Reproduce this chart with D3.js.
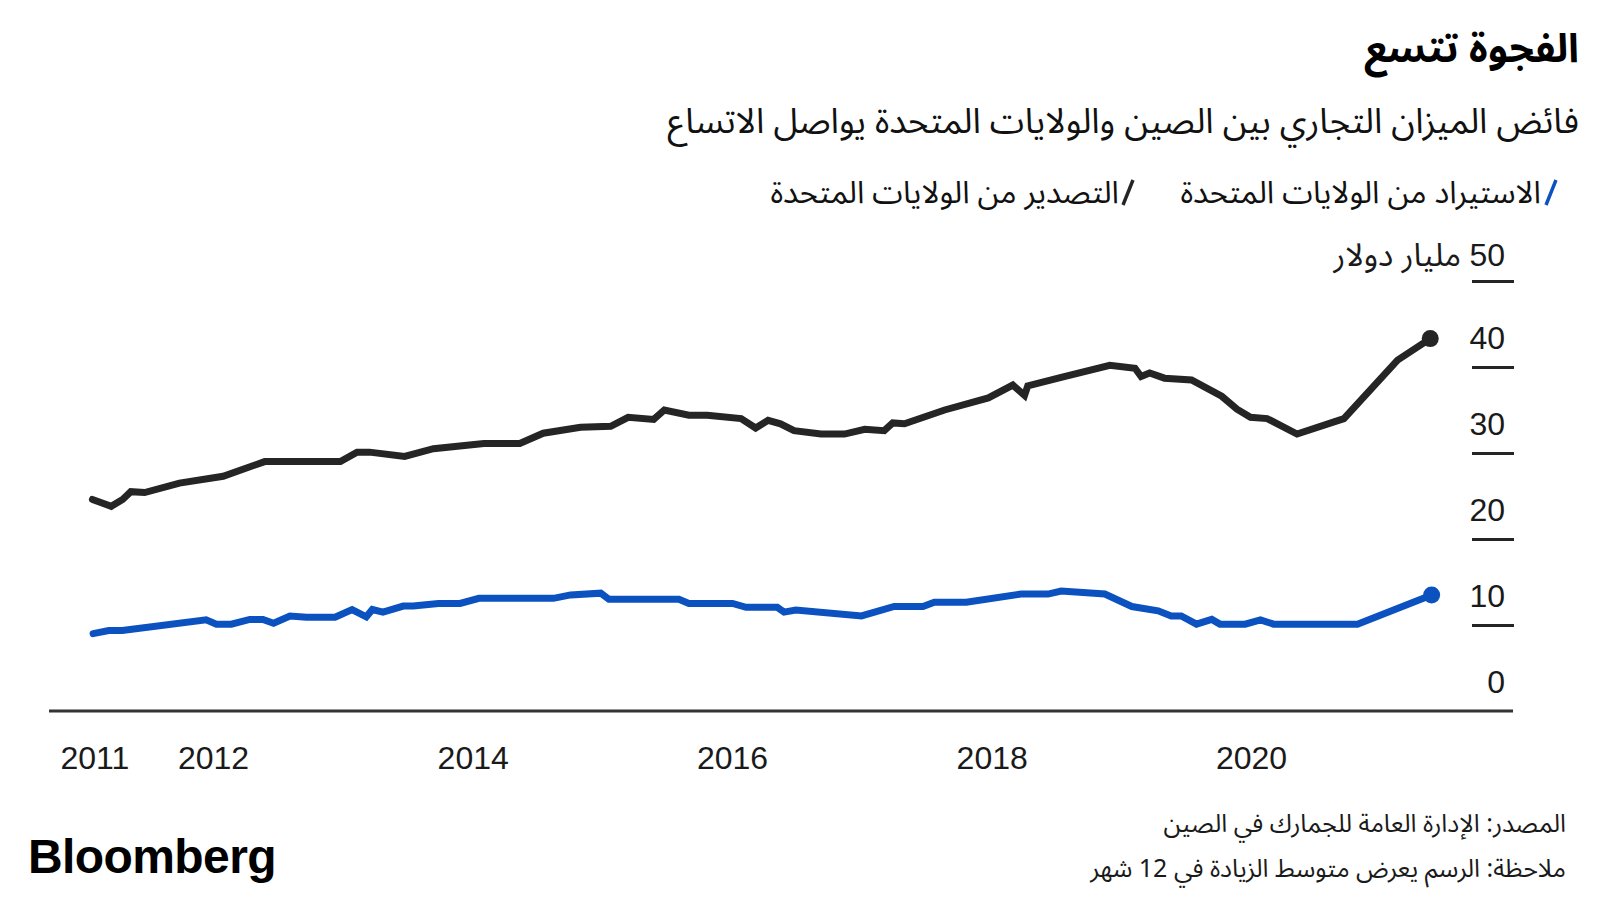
<!DOCTYPE html>
<html lang="ar">
<head>
<meta charset="utf-8">
<script src="https://cdn.jsdelivr.net/npm/d3@7"></script>
<style>
  html, body { margin: 0; padding: 0; background: #fff; }
  svg { display: block; }
  .ar { font-family: "Noto Sans Arabic", "Noto Kufi Arabic", "DejaVu Sans", sans-serif; }
  .num { font-family: "Liberation Sans", Arial, sans-serif; }
</style>
</head>
<body>
<svg id="chart" width="1600" height="900"></svg>
<script>
// ---------- DATA ----------
const titleText = "الفجوة تتسع";
const subtitleText = "فائض الميزان التجاري بين الصين والولايات المتحدة يواصل الاتساع";
const legendLabels = ["الاستيراد من الولايات المتحدة", "التصدير من الولايات المتحدة"];
const unitText = "مليار دولار";
const sourceText = "المصدر: الإدارة العامة للجمارك في الصين";
const noteText = "ملاحظة: الرسم يعرض متوسط الزيادة في 12 شهر";

// Exports to the US (black line), billions USD
const exportDates = ["2011-02-04","2011-03-29","2011-04-30","2011-05-23","2011-07-01","2011-10-07","2012-02-07","2012-06-03","2013-01-02","2013-02-18","2013-03-25","2013-07-02","2013-09-21","2014-02-10","2014-05-22","2014-07-27","2014-11-09","2015-02-02","2015-03-23","2015-06-03","2015-07-03","2015-09-10","2015-11-01","2016-02-04","2016-03-16","2016-04-20","2016-05-25","2016-07-02","2016-09-16","2016-11-21","2017-01-17","2017-03-13","2017-04-06","2017-05-09","2017-08-30","2017-12-31","2018-03-10","2018-04-12","2018-04-21","2018-07-24","2018-12-08","2019-02-17","2019-03-06","2019-03-30","2019-05-11","2019-07-26","2019-10-19","2019-12-01","2020-01-08","2020-02-24","2020-05-18","2020-09-27","2021-02-25","2021-05-28"];
const exportValues = [24.6,23.8,24.6,25.5,25.4,26.5,27.3,29.0,29.0,30.1,30.1,29.6,30.5,31.1,31.1,32.3,33.0,33.1,34.15,33.9,35.0,34.4,34.4,34.0,32.9,33.8,33.4,32.6,32.2,32.2,32.75,32.6,33.5,33.4,35.0,36.4,37.9,36.7,37.8,38.8,40.2,39.85,38.9,39.3,38.7,38.5,36.6,35.1,34.15,34.0,32.2,34.0,40.8,43.3];

// Imports from the US (blue line), billions USD
const importDates = ["2011-02-06","2011-03-22","2011-04-29","2011-12-21","2012-01-19","2012-03-01","2012-04-22","2012-05-29","2012-06-28","2012-08-13","2012-09-29","2012-12-18","2013-02-04","2013-03-16","2013-04-02","2013-05-02","2013-06-28","2013-07-26","2013-10-05","2013-12-05","2014-01-27","2014-08-25","2014-10-12","2015-01-05","2015-01-28","2015-08-13","2015-09-10","2016-01-11","2016-02-18","2016-05-16","2016-06-04","2016-07-07","2017-01-08","2017-04-10","2017-06-30","2017-08-01","2017-10-30","2018-04-02","2018-06-17","2018-07-24","2018-11-24","2019-02-08","2019-04-23","2019-05-30","2019-06-27","2019-08-09","2019-09-21","2019-10-14","2019-12-24","2020-02-05","2020-03-13","2020-11-04","2021-06-01"];
const importValues = [9.0,9.35,9.35,10.6,10.1,10.1,10.65,10.65,10.2,11.05,10.9,10.9,11.8,10.95,11.8,11.5,12.2,12.2,12.5,12.5,13.1,13.1,13.5,13.7,13.0,13.0,12.5,12.5,12.05,12.05,11.5,11.75,11.05,12.15,12.15,12.65,12.65,13.6,13.6,13.95,13.6,12.15,11.65,11.05,11.05,10.1,10.65,10.1,10.1,10.6,10.1,10.1,13.5];

const yTickValues = [0, 10, 20, 30, 40, 50];
const xTickDates = ["2011-02-01","2012-01-01","2014-01-01","2016-01-01","2018-01-01","2020-01-01"];
const xTickLabels = ["2011","2012","2014","2016","2018","2020"];

// ---------- SETUP ----------
const parse = d3.utcParse("%Y-%m-%d");
const exportsSeries = exportDates.map((d, i) => ({ date: parse(d), value: exportValues[i] }));
const importsSeries = importDates.map((d, i) => ({ date: parse(d), value: importValues[i] }));

const svg = d3.select("#chart");
const BLACK = "#252525";
const BLUE = "#0b52c0";

const x = d3.scaleUtc()
  .domain([parse("2012-01-01"), parse("2020-01-01")])
  .range([210, 1248]);
const y = d3.scaleLinear().domain([0, 50]).range([711, 281]);

// ---------- TITLES ----------
svg.append("text").attr("class", "ar")
  .attr("x", 1579).attr("y", 62)
  .attr("direction", "rtl").attr("text-anchor", "start")
  .attr("font-size", 40).attr("font-weight", 700).attr("fill", "#000")
  .text(titleText);

svg.append("text").attr("class", "ar")
  .attr("x", 1579).attr("y", 133)
  .attr("direction", "rtl").attr("text-anchor", "start")
  .attr("font-size", 35).attr("fill", "#111")
  .text(subtitleText);

// ---------- LEGEND ----------
const legend = [
  { label: legendLabels[0], color: BLUE, slashX: 1551, textX: 1541 },
  { label: legendLabels[1], color: BLACK, slashX: 1128, textX: 1119 }
];
legend.forEach(l => {
  svg.append("line")
    .attr("x1", l.slashX - 5).attr("y1", 205)
    .attr("x2", l.slashX + 5).attr("y2", 180)
    .attr("stroke", l.color).attr("stroke-width", 3.4);
  svg.append("text").attr("class", "ar")
    .attr("x", l.textX).attr("y", 203)
    .attr("direction", "rtl").attr("text-anchor", "start")
    .attr("font-size", 31).attr("fill", "#111")
    .text(l.label);
});

// ---------- Y AXIS ----------
const yAxis = d3.axisLeft(y).tickValues(yTickValues).tickSize(42).tickFormat(d => d);
const gy = svg.append("g").attr("transform", "translate(1514,0)").call(yAxis);
gy.select(".domain").remove();
gy.selectAll(".tick line").attr("stroke", BLACK).attr("stroke-width", 3)
  .attr("display", d => d === 0 ? "none" : null);
gy.selectAll(".tick text").remove();
gy.selectAll(".tick").append("text")
  .attr("class", d => d === 50 ? "ar" : "num")
  .attr("x", -9).attr("y", d => d === 50 ? -16 : -19)
  .attr("direction", "rtl").attr("text-anchor", "start")
  .attr("font-size", 32).attr("fill", "#1a1a1a")
  .each(function(d) {
    const t = d3.select(this);
    if (d === 50) {
      t.append("tspan").attr("class", "num").text("50");
      t.append("tspan").text(" " + unitText);
    } else {
      t.text(d);
    }
  });

// ---------- X AXIS ----------
svg.append("line")
  .attr("x1", 49).attr("x2", 1513).attr("y1", y(0)).attr("y2", y(0))
  .attr("stroke", "#333").attr("stroke-width", 3);
const xAxis = d3.axisBottom(x)
  .tickValues(xTickDates.map(parse))
  .tickFormat((d, i) => xTickLabels[i])
  .tickSize(0);
const gx = svg.append("g").attr("transform", `translate(0,${y(0)})`).call(xAxis);
gx.select(".domain").remove();
gx.selectAll(".tick text")
  .attr("class", "num")
  .attr("x", 3)
  .attr("y", 58).attr("dy", 0)
  .attr("font-size", 32).attr("fill", "#1a1a1a");

// ---------- LINES ----------
const line = d3.line().x(d => x(d.date)).y(d => y(d.value));
[{ s: exportsSeries, c: BLACK }, { s: importsSeries, c: BLUE }].forEach(o => {
  svg.append("path").datum(o.s)
    .attr("d", line)
    .attr("fill", "none").attr("stroke", o.c)
    .attr("stroke-width", 7).attr("stroke-linejoin", "miter").attr("stroke-linecap", "round");
  const last = o.s[o.s.length - 1];
  svg.append("circle")
    .attr("cx", x(last.date)).attr("cy", y(last.value))
    .attr("r", 8.5).attr("fill", o.c);
});

// ---------- FOOTER ----------
svg.append("text").attr("class", "num")
  .attr("x", 28).attr("y", 873)
  .attr("font-size", 48).attr("font-weight", 700).attr("fill", "#000")
  .attr("letter-spacing", -0.6)
  .text("Bloomberg");

svg.append("text").attr("class", "ar")
  .attr("x", 1566).attr("y", 832)
  .attr("direction", "rtl").attr("text-anchor", "start")
  .attr("font-size", 25).attr("fill", "#1a1a1a")
  .text(sourceText);
svg.append("text").attr("class", "ar")
  .attr("x", 1566).attr("y", 877)
  .attr("direction", "rtl").attr("text-anchor", "start")
  .attr("font-size", 25).attr("fill", "#1a1a1a")
  .text(noteText);
</script>
</body>
</html>
